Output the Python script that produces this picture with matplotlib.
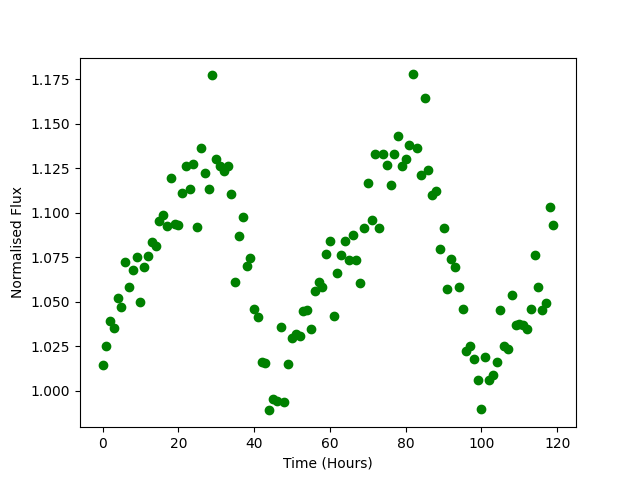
import numpy as np
import matplotlib
matplotlib.use('Agg')
import matplotlib.pyplot as plt

# hours since start of observation
hours = list(range(120))

# normalised flux
flux = [
    1.0147, 1.0250, 1.0390, 1.0351, 1.0520, 1.0469, 1.0722, 1.0580, 1.0677, 1.0750,
    1.0497, 1.0693, 1.0756, 1.0835, 1.0812, 1.0953, 1.0987, 1.0925, 1.1195, 1.0936,
    1.0929, 1.1114, 1.1261, 1.1133, 1.1277, 1.0919, 1.1362, 1.1223, 1.1133, 1.1773,
    1.1302, 1.1262, 1.1234, 1.1262, 1.1104, 1.0609, 1.0868, 1.0975, 1.0699, 1.0744,
    1.0459, 1.0412, 1.0163, 1.0158, 0.9889, 0.9955, 0.9941, 1.0356, 0.9934, 1.0148,
    1.0298, 1.0317, 1.0310, 1.0448, 1.0454, 1.0345, 1.0563, 1.0609, 1.0581, 1.0771,
    1.0844, 1.0418, 1.0660, 1.0760, 1.0844, 1.0733, 1.0874, 1.0737, 1.0604, 1.0912,
    1.1167, 1.0957, 1.1328, 1.0912, 1.1328, 1.1266, 1.1159, 1.1328, 1.1429, 1.1262,
    1.1302, 1.1379, 1.1778, 1.1362, 1.1210, 1.1643, 1.1240, 1.1099, 1.1120, 1.0799,
    1.0912, 1.0574, 1.0739, 1.0698, 1.0585, 1.0461, 1.0221, 1.0249, 1.0176, 1.0062,
    0.9895, 1.0187, 1.0062, 1.0088, 1.0161, 1.0452, 1.0249, 1.0236, 1.0535, 1.0367,
    1.0377, 1.0367, 1.0349, 1.0458, 1.0760, 1.0580, 1.0452, 1.0490, 1.1031, 1.0930,
]

plt.figure(figsize=(6.4, 4.8), dpi=100)
plt.plot(hours, flux, 'go')
plt.xlabel("Time (Hours)")
plt.ylabel("Normalised Flux")

plt.savefig("out.png")
